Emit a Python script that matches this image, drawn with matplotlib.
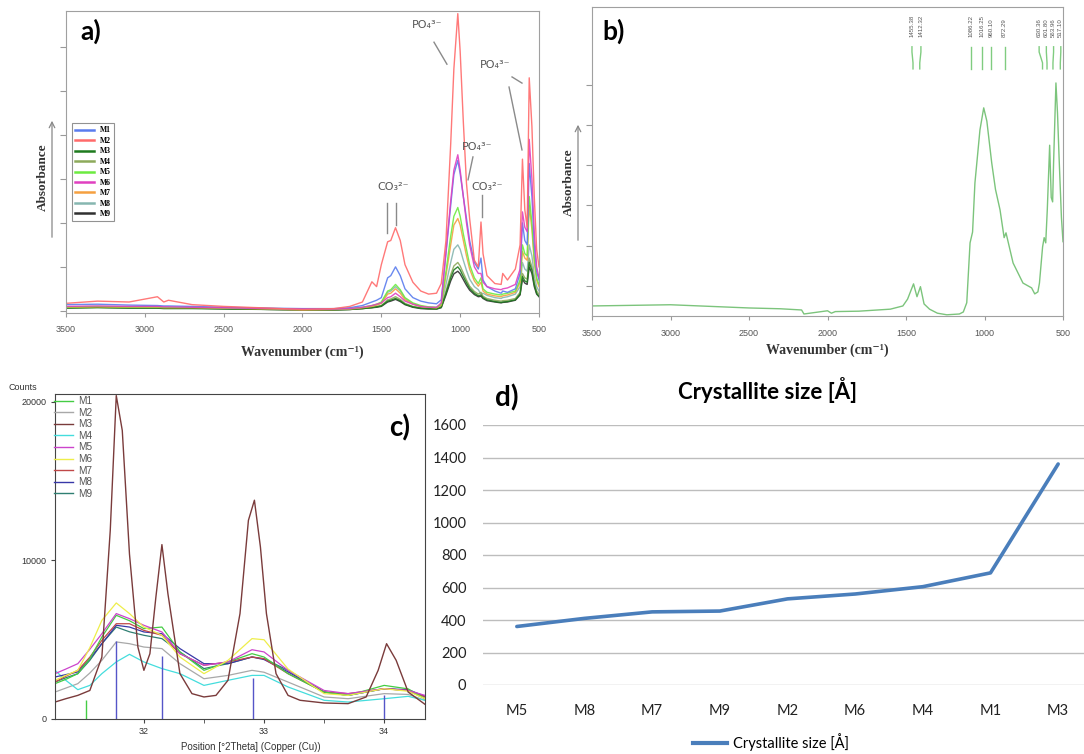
import matplotlib
matplotlib.use('Agg')
import matplotlib.pyplot as plt
from matplotlib.lines import Line2D

# ---------------------------------------------------------------- data
series_names = ['M1', 'M2', 'M3', 'M4', 'M5', 'M6', 'M7', 'M8', 'M9']

# panel a : FTIR spectra (absorbance, arbitrary units)
wn_a = [3500, 3300, 3100, 2920, 2880, 2850, 2700, 2500, 2200, 2000,
        1800, 1700, 1620, 1560, 1530, 1500, 1460, 1440, 1410, 1380,
        1350, 1300, 1250, 1200, 1150, 1120, 1090, 1060, 1040, 1015,
        1000, 980, 960, 940, 910, 885, 868, 855, 830, 780,
        740, 730, 700, 650, 620, 605, 590, 575, 562, 545,
        530, 515, 500]
ftir_m1 = [0.14, 0.15, 0.13, 0.12, 0.11, 0.11, 0.10, 0.08, 0.06, 0.05,
           0.05, 0.07, 0.12, 0.20, 0.24, 0.30, 0.75, 0.80, 1.00, 0.80,
           0.50, 0.30, 0.22, 0.18, 0.16, 0.25, 1.30, 2.40, 3.10, 3.42,
           3.12, 2.60, 2.10, 1.60, 1.10, 0.95, 1.20, 0.70, 0.55, 0.45,
           0.40, 0.45, 0.42, 0.50, 0.85, 2.00, 1.60, 1.50, 3.35, 2.60,
           1.50, 0.90, 0.70]
ftir_m2 = [0.17, 0.22, 0.20, 0.32, 0.20, 0.24, 0.14, 0.10, 0.06, 0.03,
           0.05, 0.10, 0.20, 0.66, 0.55, 1.05, 1.57, 1.60, 1.89, 1.60,
           1.05, 0.65, 0.45, 0.38, 0.40, 0.62, 1.60, 3.80, 5.50, 6.76,
           5.90, 4.30, 2.90, 2.10, 1.15, 1.00, 2.02, 1.30, 0.80, 0.62,
           0.60, 0.85, 0.70, 0.95, 1.50, 3.45, 2.30, 1.90, 5.30, 4.20,
           2.60, 1.40, 1.00]
ftir_m3 = [0.06, 0.07, 0.06, 0.06, 0.05, 0.05, 0.05, 0.04, 0.03, 0.02,
           0.02, 0.03, 0.05, 0.07, 0.09, 0.11, 0.22, 0.24, 0.28, 0.23,
           0.15, 0.09, 0.06, 0.05, 0.04, 0.08, 0.40, 0.75, 0.93, 1.00,
           0.93, 0.78, 0.64, 0.51, 0.40, 0.34, 0.36, 0.30, 0.25, 0.21,
           0.19, 0.20, 0.21, 0.25, 0.38, 0.78, 0.68, 0.65, 1.10, 0.92,
           0.60, 0.40, 0.33]
ftir_m4 = [0.07, 0.08, 0.07, 0.07, 0.06, 0.06, 0.06, 0.05, 0.03, 0.02,
           0.02, 0.03, 0.05, 0.08, 0.10, 0.12, 0.25, 0.27, 0.32, 0.26,
           0.17, 0.10, 0.07, 0.05, 0.05, 0.09, 0.45, 0.82, 1.02, 1.10,
           1.02, 0.86, 0.70, 0.56, 0.44, 0.38, 0.42, 0.33, 0.28, 0.24,
           0.22, 0.23, 0.24, 0.28, 0.42, 0.85, 0.75, 0.72, 1.20, 1.00,
           0.65, 0.45, 0.38]
ftir_m5 = [0.09, 0.10, 0.09, 0.09, 0.08, 0.08, 0.08, 0.07, 0.05, 0.04,
           0.04, 0.05, 0.08, 0.12, 0.15, 0.20, 0.45, 0.48, 0.60, 0.48,
           0.30, 0.18, 0.12, 0.09, 0.08, 0.15, 0.90, 1.70, 2.15, 2.35,
           2.15, 1.75, 1.40, 1.05, 0.75, 0.62, 0.75, 0.50, 0.42, 0.38,
           0.36, 0.38, 0.40, 0.45, 0.70, 1.50, 1.30, 1.25, 2.60, 2.00,
           1.20, 0.75, 0.60]
ftir_m6 = [0.10, 0.11, 0.10, 0.10, 0.09, 0.09, 0.08, 0.07, 0.05, 0.04,
           0.04, 0.05, 0.08, 0.12, 0.15, 0.18, 0.30, 0.32, 0.40, 0.32,
           0.22, 0.15, 0.10, 0.08, 0.08, 0.18, 1.35, 2.50, 3.20, 3.55,
           3.20, 2.60, 2.00, 1.50, 1.00, 0.85, 0.85, 0.65, 0.55, 0.50,
           0.48, 0.50, 0.52, 0.60, 0.95, 2.25, 1.90, 1.80, 3.90, 3.00,
           1.80, 1.00, 0.75]
ftir_m7 = [0.08, 0.09, 0.08, 0.08, 0.07, 0.07, 0.07, 0.06, 0.04, 0.02,
           0.03, 0.04, 0.07, 0.10, 0.13, 0.17, 0.38, 0.40, 0.50, 0.40,
           0.25, 0.15, 0.10, 0.08, 0.07, 0.13, 0.80, 1.50, 1.95, 2.10,
           1.95, 1.60, 1.25, 0.95, 0.68, 0.56, 0.65, 0.45, 0.38, 0.34,
           0.32, 0.34, 0.36, 0.42, 0.65, 1.35, 1.20, 1.15, 2.40, 1.85,
           1.10, 0.70, 0.55]
ftir_m8 = [0.08, 0.09, 0.08, 0.08, 0.07, 0.07, 0.07, 0.06, 0.04, 0.03,
           0.03, 0.04, 0.07, 0.11, 0.14, 0.18, 0.42, 0.45, 0.55, 0.45,
           0.28, 0.16, 0.10, 0.08, 0.07, 0.12, 0.60, 1.10, 1.40, 1.50,
           1.40, 1.15, 0.92, 0.72, 0.55, 0.48, 0.38, 0.40, 0.35, 0.30,
           0.28, 0.30, 0.32, 0.38, 0.55, 1.10, 0.95, 0.90, 1.50, 1.25,
           0.80, 0.55, 0.45]
ftir_m9 = [0.07, 0.08, 0.07, 0.07, 0.06, 0.06, 0.06, 0.05, 0.03, 0.02,
           0.02, 0.03, 0.05, 0.07, 0.08, 0.10, 0.20, 0.22, 0.26, 0.21,
           0.14, 0.08, 0.05, 0.04, 0.04, 0.07, 0.36, 0.68, 0.84, 0.90,
           0.84, 0.71, 0.58, 0.47, 0.37, 0.32, 0.33, 0.28, 0.23, 0.20,
           0.18, 0.19, 0.20, 0.24, 0.36, 0.72, 0.63, 0.60, 1.00, 0.85,
           0.55, 0.38, 0.32]
ftir_a = [ftir_m1, ftir_m2, ftir_m3, ftir_m4, ftir_m5, ftir_m6, ftir_m7, ftir_m8, ftir_m9]

# panel b : reference FTIR spectrum
wn_b = [3500, 3000, 2500, 2300, 2165, 2150, 2000, 1975, 1950, 1800,
        1600, 1520, 1490, 1452, 1430, 1408, 1385, 1350, 1300, 1240,
        1160, 1135, 1113, 1092, 1076, 1061, 1029, 1005, 985, 954,
        930, 901, 875, 863, 818, 755, 700, 680, 660, 650,
        630, 620, 610, 600, 585, 575, 566, 560, 545, 535,
        525, 515, 510, 500]
ftir_ref = [0.50, 0.53, 0.45, 0.43, 0.40, 0.30, 0.38, 0.32, 0.36, 0.37,
            0.42, 0.50, 0.67, 1.05, 0.73, 0.98, 0.55, 0.42, 0.32, 0.28,
            0.30, 0.35, 0.58, 2.07, 2.34, 3.56, 4.88, 5.43, 5.10, 4.06,
            3.40, 2.89, 2.20, 2.32, 1.57, 1.07, 0.95, 0.80, 0.85, 1.07,
            1.97, 2.20, 2.07, 2.90, 4.50, 3.20, 3.09, 4.06, 6.05, 5.30,
            4.20, 3.20, 2.70, 2.10]
peak_wn_b = [1455.38, 1412.32, 1086.22, 1016.25, 960.10, 872.29,
             630.36, 601.80, 563.96, 517.10]
# where each peak's label sits along the axis (labels spread so they do not collide)
peak_label_wn_b = [1462, 1405, 1086.22, 1016.25, 960.10, 872.29,
                   652, 606, 560, 514]

# panel c : XRD patterns (counts)
tt_broad = [31.26, 31.35, 31.45, 31.55, 31.65, 31.77, 31.88, 32.0, 32.15, 32.3,
            32.5, 32.7, 32.9, 33.0, 33.2, 33.5, 33.7, 34.0, 34.2, 34.34]
xrd_m1 = [2230, 2500, 2860, 3800, 5170, 6540, 6200, 5700, 5800, 4230,
          3070, 3600, 4120, 3910, 2860, 1700, 1490, 2120, 1900, 1280]
xrd_m2 = [1700, 1950, 2230, 2900, 3700, 4860, 4750, 4540, 4440, 3490,
          2540, 2750, 3070, 2950, 2330, 1390, 1280, 1600, 1550, 1180]
xrd_m4 = [3070, 2440, 1850, 2120, 2860, 3600, 4080, 3600, 3180, 2860,
          2120, 2440, 2750, 2750, 2020, 1180, 1070, 1280, 1430, 1180]
xrd_m5 = [2860, 3150, 3490, 4400, 5380, 6650, 6330, 5910, 5490, 4120,
          3390, 3600, 4370, 4230, 3070, 1800, 1600, 1910, 1800, 1490]
xrd_m6 = [2440, 2750, 3070, 4500, 6220, 7320, 6650, 5800, 5280, 3910,
          2860, 3700, 5070, 5000, 3150, 1600, 1490, 1910, 1750, 1280]
xrd_m7 = [2330, 2700, 3070, 3900, 4960, 6010, 6010, 5590, 5280, 4120,
          3390, 3600, 3910, 3800, 2860, 1700, 1600, 1910, 1800, 1390]
xrd_m8 = [2650, 2800, 2970, 3800, 4750, 5910, 5800, 5490, 5380, 4440,
          3490, 3490, 3910, 3750, 2970, 1700, 1490, 1910, 1850, 1430]
xrd_m9 = [2330, 2600, 2860, 3700, 4750, 5800, 5500, 5280, 5070, 4230,
          3180, 3490, 3910, 3800, 3070, 1700, 1490, 1910, 1800, 1280]
tt_m3 = [31.26, 31.35, 31.45, 31.55, 31.65, 31.72, 31.77, 31.82, 31.88, 31.95,
         32.0, 32.05, 32.1, 32.15, 32.2, 32.25, 32.3, 32.4, 32.5, 32.6,
         32.7, 32.8, 32.87, 32.92, 32.97, 33.02, 33.1, 33.2, 33.3, 33.5,
         33.7, 33.85, 33.95, 34.02, 34.1, 34.2, 34.34]
xrd_m3 = [1070, 1280, 1490, 1800, 3900, 11900, 20400, 18200, 10400, 4540,
          3070, 4120, 7700, 11000, 7900, 5380, 2860, 1600, 1390, 1490,
          2440, 6650, 12530, 13800, 10850, 6650, 2860, 1490, 1180, 1010,
          970, 1390, 3070, 4750, 3700, 1700, 925]
stick_pos = [31.52, 31.77, 32.15, 32.91, 34.00]
stick_cnt = [1180, 4900, 3950, 2590, 1490]

# panel d : crystallite size
cryst_samples = ['M5', 'M8', 'M7', 'M9', 'M2', 'M6', 'M4', 'M1', 'M3']
cryst_size = [360, 410, 450, 455, 530, 560, 605, 690, 1360]

# ---------------------------------------------------------------- styles
W, H = 1084, 754
col_a = ['#5A7CEE', '#FF6A6A', '#1E7B1E', '#8DAA5B', '#6CEB40',
         '#E040C0', '#F5A040', '#86B6B0', '#303030']
col_c = ['#44CC44', '#A8A8A8', '#7A3B3B', '#44DDDD', '#CC44CC',
         '#EEEE4A', '#C04848', '#3838A8', '#2F7F72']
SERIF = ['Liberation Serif', 'DejaVu Serif']
SANS = ['Liberation Sans', 'DejaVu Sans']
CAL = ['Lato', 'DejaVu Sans']

plt.rcParams['font.family'] = SANS


def box(l, t, r, b):
    return [l / W, 1 - b / H, (r - l) / W, (b - t) / H]


def fp(x, y):
    return (x / W, 1 - y / H)


fig = plt.figure(figsize=(W / 100, H / 100), dpi=100)

# ---------------------------------------------------------------- panel a
ax_a = fig.add_axes(box(66, 11, 539, 313))
order = [8, 7, 3, 2, 6, 4, 0, 5, 1]
for i in order:
    ax_a.plot(wn_a, ftir_a[i], color=col_a[i], lw=1.0, alpha=0.9)
ax_a.set_xlim(3500, 500)
ax_a.set_ylim(-0.05, 6.82)
ax_a.set_xticks([3500, 3000, 2500, 2000, 1500, 1000, 500])
ax_a.set_yticks([0, 1, 2, 3, 4, 5, 6])
ax_a.set_yticklabels([])
ax_a.tick_params(axis='x', labelsize=6.5, labelcolor='#555555', color='#999999', length=3, pad=6)
ax_a.tick_params(axis='y', color='#999999', length=4)
for s in ax_a.spines.values():
    s.set_color('#A0A0A0')
handles = [Line2D([], [], color=col_a[i], lw=1.8) for i in range(9)]
leg = ax_a.legend(handles, series_names, loc='upper left',
                  bbox_to_anchor=fp(72, 123), bbox_transform=fig.transFigure,
                  borderaxespad=0, fancybox=False, edgecolor='#777777',
                  prop={'family': SERIF, 'weight': 'bold', 'size': 5.5},
                  handlelength=2.4, labelspacing=0.32, borderpad=0.45,
                  handletextpad=0.8)
leg.get_frame().set_linewidth(0.8)

ann = dict(color='#8A8A8A', lw=1.0)
tkw = dict(fontsize=8, color='#555555', ha='center', va='center',
           family=['DejaVu Sans'])
ax_a.text(1210, 6.5, 'PO₄³⁻', **tkw)
ax_a.plot([1166, 1084], [6.11, 5.61], **ann)
ax_a.text(779, 5.59, 'PO₄³⁻', **tkw)
ax_a.plot([671, 608], [5.32, 5.18], **ann)
ax_a.plot([690, 608], [5.09, 3.66], **ann)
ax_a.text(893, 3.73, 'PO₄³⁻', **tkw)
ax_a.plot([919, 950], [3.50, 2.98], **ann)
ax_a.text(1426, 2.82, 'CO₃²⁻', **tkw)
ax_a.plot([1464, 1464], [2.45, 1.77], **ann)
ax_a.plot([1407, 1407], [2.45, 1.95], **ann)
ax_a.text(830, 2.82, 'CO₃²⁻', **tkw)
ax_a.plot([862, 862], [2.64, 2.14], **ann)

fig.text(*fp(43, 177), 'Absorbance', rotation=90, ha='center', va='center',
         family=SERIF, weight='bold', fontsize=9.5, color='#333333')
ax_a.annotate('', xy=fp(52, 118), xytext=fp(52, 240), xycoords='figure fraction',
              textcoords='figure fraction', annotation_clip=False,
              arrowprops=dict(arrowstyle='->', color='#888888', lw=0.9))
fig.text(*fp(302, 352), 'Wavenumber (cm⁻¹)', ha='center', va='center',
         family=SERIF, weight='bold', fontsize=10, color='#333333')
fig.text(*fp(91, 31), 'a)', ha='center', va='center', family=CAL,
         weight='bold', fontsize=19, color='black')

# ---------------------------------------------------------------- panel b
ax_b = fig.add_axes(box(592, 7, 1063, 316))
ax_b.plot(wn_b, ftir_ref, color='#7CC47C', lw=1.0)
ax_b.set_xlim(3500, 500)
ax_b.set_ylim(0.25, 7.94)
ax_b.set_xticks([3500, 3000, 2500, 2000, 1500, 1000, 500])
ax_b.set_yticks([1, 2, 3, 4, 5, 6])
ax_b.set_yticklabels([])
ax_b.tick_params(axis='x', labelsize=6.5, labelcolor='#555555', color='#999999', length=3, pad=6)
ax_b.tick_params(axis='y', color='#999999', length=4)
for s in ax_b.spines.values():
    s.set_color('#A0A0A0')
for p, lp in zip(peak_wn_b, peak_label_wn_b):
    ax_b.plot([lp, lp, p, p], [6.95, 6.82, 6.55, 6.4], color='#80CC80', lw=1.0)
    ax_b.text(lp, 7.2, f'{p:.2f}', rotation=90, ha='center', va='bottom',
              fontsize=4.4, color='#555555')
fig.text(*fp(569, 182), 'Absorbance', rotation=90, ha='center', va='center',
         family=SERIF, weight='bold', fontsize=9.5, color='#333333')
ax_b.annotate('', xy=fp(578, 122), xytext=fp(578, 243), xycoords='figure fraction',
              textcoords='figure fraction', annotation_clip=False,
              arrowprops=dict(arrowstyle='->', color='#888888', lw=0.9))
fig.text(*fp(827, 350), 'Wavenumber (cm⁻¹)', ha='center', va='center',
         family=SERIF, weight='bold', fontsize=10, color='#333333')
fig.text(*fp(614, 31), 'b)', ha='center', va='center', family=CAL,
         weight='bold', fontsize=19, color='black')

# ---------------------------------------------------------------- panel c
ax_c = fig.add_axes(box(55, 394, 425, 719))
xrd_broad = {'M1': xrd_m1, 'M2': xrd_m2, 'M4': xrd_m4, 'M5': xrd_m5,
             'M6': xrd_m6, 'M7': xrd_m7, 'M8': xrd_m8, 'M9': xrd_m9}
for name in ['M2', 'M4', 'M9', 'M8', 'M7', 'M1', 'M5', 'M6']:
    i = series_names.index(name)
    ax_c.plot(tt_broad, xrd_broad[name], color=col_c[i], lw=0.9)
ax_c.plot(tt_m3, xrd_m3, color=col_c[2], lw=1.0)
ax_c.vlines(stick_pos[:1], 0, stick_cnt[:1], color='#44CC44', lw=1.0)
ax_c.vlines(stick_pos[1:], 0, stick_cnt[1:], color='#5555C8', lw=1.0)
ax_c.set_xlim(31.26, 34.34)
ax_c.set_ylim(0, 20500)
ax_c.set_xticks([32, 33, 34])
ax_c.set_xticks([32.5, 33.5], minor=True)
ax_c.set_yticks([0, 10000, 20000])
ax_c.tick_params(axis='both', which='both', labelsize=6.5, labelcolor='#333333',
                 color='#444444', length=3, pad=3)
for s in ax_c.spines.values():
    s.set_color('#444444')
hc = [Line2D([], [], color=col_c[i], lw=1.0) for i in range(9)]
ax_c.legend(hc, series_names, loc='upper left', bbox_to_anchor=fp(52, 394),
            bbox_transform=fig.transFigure, borderaxespad=0, frameon=False,
            fontsize=7.2, labelcolor='#555555', handlelength=1.9,
            labelspacing=0.16, handletextpad=0.5, borderpad=0.2)
fig.text(*fp(23, 388), 'Counts', ha='center', va='center', fontsize=6.5, color='#333333')
fig.text(*fp(251, 747), 'Position [°2Theta] (Copper (Cu))', ha='center', va='center',
         fontsize=7, color='#333333')
fig.text(*fp(400, 428), 'c)', ha='center', va='center', family=CAL,
         weight='bold', fontsize=20, color='black')

# ---------------------------------------------------------------- panel d
ax_d = fig.add_axes(box(483, 425, 1092, 685))
xs = list(range(len(cryst_samples)))
ax_d.plot(xs, cryst_size, color='#4A7EBB', lw=2.6, solid_capstyle='round',
          label='Crystallite size [Å]')
ax_d.set_xlim(-0.5, len(cryst_samples) - 0.5)
ax_d.set_ylim(0, 1600)
ax_d.set_xticks(xs)
ax_d.set_xticklabels(cryst_samples)
ax_d.set_yticks(range(0, 1601, 200))
ax_d.yaxis.grid(True, color='#BDBDBD', lw=1.0)
ax_d.set_axisbelow(True)
for s in ax_d.spines.values():
    s.set_visible(False)
ax_d.tick_params(axis='x', length=0, pad=14, labelsize=10.5, labelcolor='#222222')
ax_d.tick_params(axis='y', length=0, pad=12, labelsize=10.5, labelcolor='#222222')
for lbl in ax_d.get_xticklabels() + ax_d.get_yticklabels():
    lbl.set_family(CAL)
fig.legend(handles=[Line2D([], [], color='#4A7EBB', lw=3)],
           labels=['Crystallite size [Å]'], loc='center',
           bbox_to_anchor=fp(771, 742), frameon=False,
           prop={'family': CAL, 'size': 10.5}, handlelength=2.3, handletextpad=0.4)
fig.text(*fp(768, 390), 'Crystallite size [Å]', ha='center', va='center',
         family=CAL, weight='bold', fontsize=16, color='black')
fig.text(*fp(507, 398), 'd)', ha='center', va='center', family=CAL,
         weight='bold', fontsize=20, color='black')

fig.savefig('out.png', dpi=100)
